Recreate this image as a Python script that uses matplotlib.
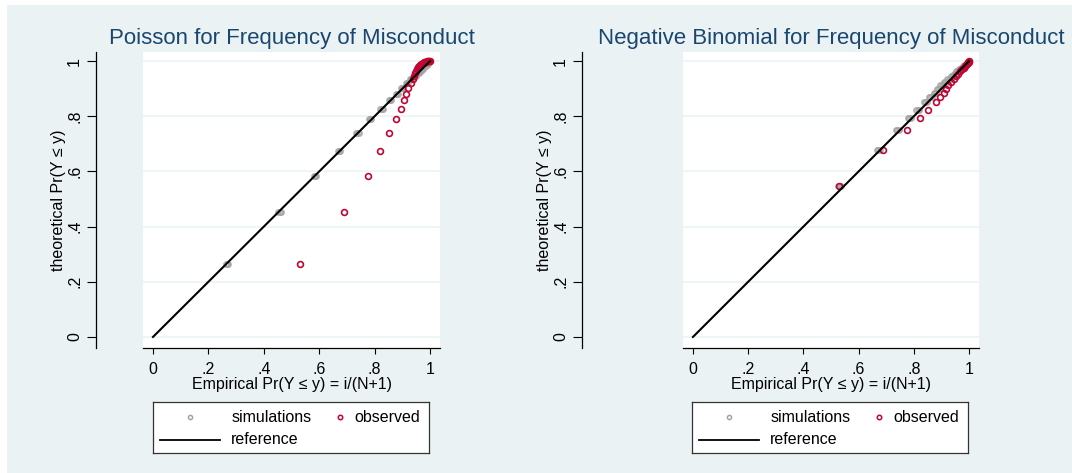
import numpy as np
import matplotlib
matplotlib.use('Agg')
import matplotlib.pyplot as plt
from matplotlib import rc
from matplotlib.patches import Rectangle

rc('font', **{'family': ['Liberation Sans', 'DejaVu Sans'], 'size': 11.5})
rc('mathtext', **{'default': 'regular'})

# ---- data ----
tick_vals = [0, 0.2, 0.4, 0.6, 0.8, 1]
tick_labels = ["0", ".2", ".4", ".6", ".8", "1"]

ref_x = [0, 1]
ref_y = [0, 1]

# Poisson
pois_obs_x = [0.529, 0.690, 0.775, 0.821, 0.853, 0.878, 0.894, 0.906, 0.912, 0.919, 0.931,
              0.937, 0.941, 0.945, 0.949, 0.953, 0.957, 0.961, 0.965, 0.969, 0.973, 0.977,
              0.981, 0.985, 0.989, 0.993, 0.996, 0.999]
pois_obs_y = [0.266, 0.454, 0.585, 0.673, 0.739, 0.790, 0.827, 0.859, 0.882, 0.903, 0.920,
              0.934, 0.946, 0.956, 0.965, 0.972, 0.978, 0.983, 0.987, 0.990, 0.993, 0.995,
              0.997, 0.998, 0.999, 1.000, 1.000, 1.000]
pois_sim_x = [0.262, 0.267, 0.272, 0.452, 0.458, 0.463, 0.580, 0.584, 0.589,
              0.667, 0.671, 0.676, 0.733, 0.738, 0.743, 0.779, 0.783, 0.788,
              0.821, 0.826, 0.830, 0.851, 0.856, 0.860, 0.877, 0.882, 0.886,
              0.896, 0.900, 0.904, 0.912, 0.916, 0.921, 0.928, 0.932, 0.936,
              0.941, 0.945, 0.949, 0.952, 0.955, 0.959, 0.961, 0.964, 0.967,
              0.969, 0.972, 0.975, 0.976, 0.979, 0.981, 0.984, 0.986, 0.988,
              0.989, 0.991, 0.992, 0.994, 0.995, 0.997, 0.998, 0.999, 1.000]
pois_sim_y = [0.266, 0.266, 0.266, 0.454, 0.454, 0.454, 0.585, 0.585, 0.585,
              0.673, 0.673, 0.673, 0.739, 0.739, 0.739, 0.790, 0.790, 0.790,
              0.827, 0.827, 0.827, 0.859, 0.859, 0.859, 0.882, 0.882, 0.882,
              0.903, 0.903, 0.903, 0.920, 0.920, 0.920, 0.934, 0.934, 0.934,
              0.946, 0.946, 0.946, 0.956, 0.956, 0.956, 0.965, 0.965, 0.965,
              0.972, 0.972, 0.972, 0.978, 0.978, 0.983, 0.983, 0.987, 0.987,
              0.990, 0.990, 0.993, 0.993, 0.996, 0.996, 0.998, 1.000, 1.000]

# Negative binomial
nb_obs_x = [0.529, 0.689, 0.774, 0.821, 0.853, 0.880, 0.895, 0.908, 0.916, 0.925, 0.935,
            0.944, 0.953, 0.961, 0.968, 0.975, 0.980, 0.985, 0.989, 0.992, 0.995, 0.997,
            0.999, 1.000]
nb_obs_y = [0.547, 0.679, 0.749, 0.792, 0.824, 0.850, 0.870, 0.885, 0.899, 0.913, 0.925,
            0.936, 0.946, 0.955, 0.963, 0.970, 0.976, 0.981, 0.986, 0.990, 0.993, 0.996,
            0.998, 1.000]
nb_sim_x = [0.527, 0.531, 0.535, 0.666, 0.671, 0.676, 0.735, 0.740, 0.745,
            0.779, 0.784, 0.789, 0.809, 0.814, 0.819, 0.836, 0.841, 0.846,
            0.854, 0.859, 0.864, 0.872, 0.877, 0.882, 0.884, 0.889, 0.894,
            0.896, 0.901, 0.906, 0.909, 0.914, 0.919, 0.921, 0.926, 0.931,
            0.933, 0.937, 0.941, 0.944, 0.948, 0.952, 0.953, 0.957, 0.961,
            0.962, 0.966, 0.969, 0.970, 0.973, 0.976, 0.977, 0.980, 0.983, 0.986,
            0.988, 0.991, 0.992, 0.994, 0.995, 0.997, 0.998, 0.999, 1.000]
nb_sim_y = [0.547, 0.547, 0.547, 0.679, 0.679, 0.679, 0.749, 0.749, 0.749,
            0.792, 0.792, 0.792, 0.824, 0.824, 0.824, 0.850, 0.850, 0.850,
            0.870, 0.870, 0.870, 0.885, 0.885, 0.885, 0.899, 0.899, 0.899,
            0.913, 0.913, 0.913, 0.925, 0.925, 0.925, 0.936, 0.936, 0.936,
            0.946, 0.946, 0.946, 0.955, 0.955, 0.955, 0.963, 0.963, 0.963,
            0.970, 0.970, 0.970, 0.976, 0.976, 0.976, 0.981, 0.981, 0.986, 0.986,
            0.990, 0.990, 0.993, 0.993, 0.996, 0.996, 0.998, 1.000, 1.000]

BG = '#EAF2F3'
RED = '#C10534'
GREY = '#A4A4A4'
TITLE = '#1A476F'


def plot_panel(ax, title, sim_x, sim_y, obs_x, obs_y, yoffset_px):
    ax.set_facecolor('white')
    for v in tick_vals:
        ax.axhline(v, color=BG, linewidth=1.1, zorder=0)
    ax.plot(sim_x, sim_y, linestyle='none', marker='o', markersize=3.6,
            markerfacecolor='none', markeredgecolor=GREY, markeredgewidth=1.3,
            alpha=0.85, zorder=2)
    ax.plot(obs_x, obs_y, linestyle='none', marker='o', markersize=4.2,
            markerfacecolor='none', markeredgecolor=RED, markeredgewidth=1.2,
            zorder=3)
    ax.plot(ref_x, ref_y, color='black', linewidth=1.5, zorder=4)

    ax.set_xlim(-0.036, 1.036)
    ax.set_ylim(-0.04, 1.033)
    ax.set_xticks(tick_vals)
    ax.set_xticklabels(tick_labels)
    ax.set_yticks(tick_vals)
    ax.set_yticklabels(tick_labels)

    for s in ['top', 'right']:
        ax.spines[s].set_visible(False)
    # outward is in points; offsets were measured in pixels at 100 dpi
    ax.spines['left'].set_position(('outward', yoffset_px * 0.72))
    ax.spines['left'].set_linewidth(0.9)
    ax.spines['bottom'].set_linewidth(0.9)
    ax.tick_params(axis='y', length=6.5, width=0.8, pad=3.5, labelsize=11.5,
                   labelrotation=90)
    ax.tick_params(axis='x', length=4, width=0.8, pad=6, labelsize=11.5)
    for lab in ax.get_yticklabels():
        lab.set_verticalalignment('center')

    ax.set_title(title, color=TITLE, fontsize=16, pad=6)
    ax.set_xlabel("Empirical Pr(Y \u2264 y) = i/(N+1)", labelpad=0)
    ax.set_ylabel("theoretical Pr(Y \u2264 y)", labelpad=0.5)


def draw_legend(fig, rect):
    lg = fig.add_axes(rect)
    lg.set_xlim(0, 1)
    lg.set_ylim(0, 1)
    lg.set_xticks([])
    lg.set_yticks([])
    lg.set_facecolor('white')
    for s in lg.spines.values():
        s.set_linewidth(0.9)
        s.set_color('#333333')
    lg.plot([0.134], [0.70], linestyle='none', marker='o', markersize=3,
            markerfacecolor='none', markeredgecolor=GREY, markeredgewidth=1.1)
    lg.plot([0.678], [0.70], linestyle='none', marker='o', markersize=3.2,
            markerfacecolor='none', markeredgecolor=RED, markeredgewidth=1.1)
    lg.plot([0.025, 0.243], [0.26, 0.26], color='black', linewidth=1.3)
    lg.text(0.283, 0.70, "simulations", va='center', ha='left', fontsize=11.5)
    lg.text(0.728, 0.70, "observed", va='center', ha='left', fontsize=11.5)
    lg.text(0.283, 0.26, "reference", va='center', ha='left', fontsize=11.5)


if __name__ == "__main__":
    fig = plt.figure(figsize=(10.72, 4.73), dpi=100)
    fig.patch.set_facecolor('white')
    fig.patches.append(Rectangle((7 / 1072, 0), 1 - 7 / 1072, (473 - 5) / 473,
                                 transform=fig.transFigure, facecolor=BG,
                                 edgecolor='none', zorder=-10))

    ax1 = fig.add_axes([143 / 1072, 125 / 473, 297 / 1072, 296 / 473])
    ax2 = fig.add_axes([683 / 1072, 125 / 473, 296 / 1072, 296 / 473])

    plot_panel(ax1, "Poisson for Frequency of Misconduct",
               pois_sim_x, pois_sim_y, pois_obs_x, pois_obs_y, 47)
    plot_panel(ax2, "Negative Binomial for Frequency of Misconduct",
               nb_sim_x, nb_sim_y, nb_obs_x, nb_obs_y, 101)

    draw_legend(fig, [153 / 1072, 20 / 473, 276 / 1072, 51 / 473])
    draw_legend(fig, [692 / 1072, 20 / 473, 276 / 1072, 51 / 473])

    plt.savefig("out.png", dpi=100, facecolor=fig.get_facecolor())
